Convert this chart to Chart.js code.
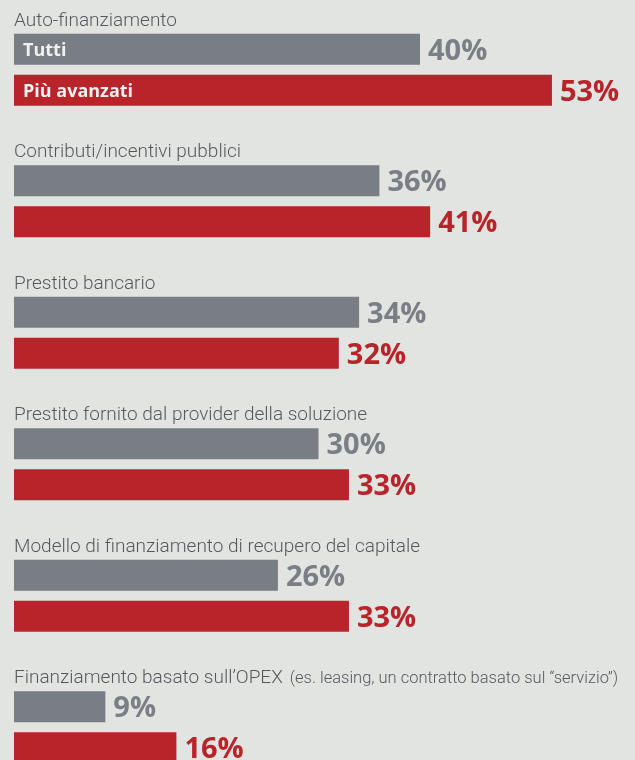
<!DOCTYPE html>
<html lang="it">
<head>
<meta charset="utf-8">
<script src="https://cdn.jsdelivr.net/npm/chart.js@4/dist/chart.umd.min.js"></script>
<style>
    html, body { margin: 0; padding: 0; background: #e2e4e1; overflow: hidden; }
    canvas { display: block; }
</style>
</head>
<body>
<canvas id="grafica" width="635" height="793"></canvas>
<script>
const categorie = [
    'Auto-finanziamento',
    'Contributi/incentivi pubblici',
    'Prestito bancario',
    'Prestito fornito dal provider della soluzione',
    'Modello di finanziamento di recupero del capitale',
    'Finanziamento basato sull\u2019OPEX'
];
const note = ['', '', '', '', '', '(es. leasing, un contratto basato sul \u201cservizio\u201d)'];
const serie = ['Tutti', 'Più avanzati'];
const tutti = [40, 36, 34, 30, 26, 9];
const avanzati = [53, 41, 32, 33, 33, 16];

const coloriBarre = ['#797d84', '#b8242a'];
const coloriTesto = ['#7a7e85', '#b8242a'];

// etichette di categoria sopra ogni coppia, valori e legenda dentro le barre
const etichette = {
    id: 'etichette',
    afterDatasetsDraw(chart) {
        const ctx = chart.ctx;
        const left = chart.chartArea.left;
        ctx.save();
        ctx.textBaseline = 'alphabetic';
        ctx.textAlign = 'left';

        chart.getDatasetMeta(0).data.forEach((bar, i) => {
            const y = bar.y - bar.height / 2 - 8;
            ctx.fillStyle = '#55595e';
            ctx.font = '300 19px Roboto';
            ctx.fillText(categorie[i], left, y);
            if (note[i]) {
                const w = ctx.measureText(categorie[i]).width;
                ctx.font = '300 16.5px Roboto';
                ctx.fillText(note[i], left + w + 7, y);
            }
        });

        chart.data.datasets.forEach((ds, d) => {
            const meta = chart.getDatasetMeta(d);
            meta.data.forEach((bar, i) => {
                ctx.font = 'bold 29px "Open Sans"';
                ctx.fillStyle = coloriTesto[d];
                ctx.fillText(ds.data[i] + '%', bar.x + 8, bar.y + 10.5);
            });
            const primo = meta.data[0];
            ctx.font = 'bold 18px "Open Sans"';
            ctx.fillStyle = '#f1f1f1';
            ctx.fillText(ds.label, left + 9, primo.y + 6.4);
        });
        ctx.restore();
    }
};

const ctx = document.getElementById('grafica').getContext('2d');

new Chart(ctx, {
    type: 'bar',
    data: {
        labels: categorie,
        datasets: [
            {
                label: serie[0],
                data: tutti,
                backgroundColor: coloriBarre[0],
                categoryPercentage: 0.6236,
                barPercentage: 0.756
            },
            {
                label: serie[1],
                data: avanzati,
                backgroundColor: coloriBarre[1],
                categoryPercentage: 0.6236,
                barPercentage: 0.756
            }
        ]
    },
    options: {
        indexAxis: 'y',
        responsive: false,
        animation: false,
        layout: {
            padding: { top: 4, left: 14, right: 12, bottom: 0 }
        },
        scales: {
            x: { display: false, min: 0, max: 60 },
            y: { display: false }
        },
        plugins: {
            legend: { display: false },
            tooltip: { enabled: false }
        }
    },
    plugins: [etichette]
});
</script>
</body>
</html>
